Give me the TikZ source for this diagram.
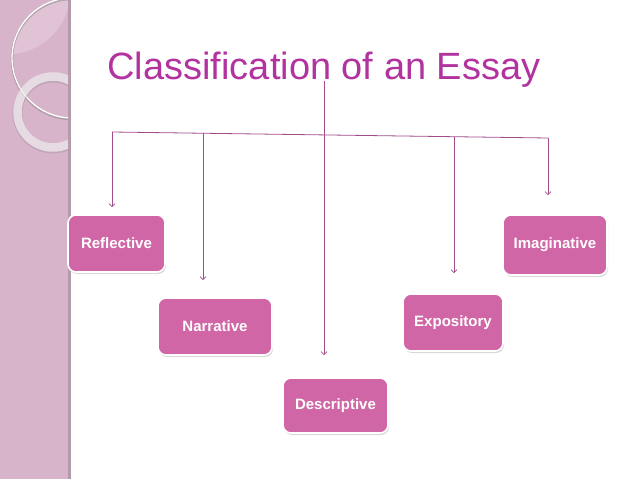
\documentclass[tikz,border=0pt]{standalone}
\usepackage{fontspec}
\setmainfont{Liberation Sans}
\usetikzlibrary{arrows.meta,shadows}

\definecolor{panelpink}{HTML}{D8B4CB}
\definecolor{paneledge}{HTML}{B49AAC}
\definecolor{titlemag}{HTML}{B2339F}
\definecolor{boxpink}{HTML}{D066A5}
\definecolor{linkmag}{HTML}{A04C8A}

\tikzset{
	essaybox/.style={rounded corners=8pt, fill=boxpink, draw=white, line width=1.6pt,
		text=white, font=\fontsize{15}{18}\selectfont\bfseries, inner sep=0pt,
		drop shadow={shadow xshift=1pt, shadow yshift=-2pt, opacity=.3}},
	branch/.style={draw=linkmag, line width=0.8pt, -{Straight Barb[length=3pt,width=6pt]}},
}

\begin{document}
\begin{tikzpicture}[x=1pt, y=-1pt]
	\useasboundingbox (0,0) rectangle (638,479);
	% side panel
	\fill[panelpink] (0,0) rectangle (69,479);
	\fill[paneledge] (68,0) rectangle (71,479);
	\begin{scope}
		\clip (0,0) rectangle (68,479);
		\begin{scope}
			\clip (72,58) circle (60pt);
			\fill[white, opacity=.22] (8,-8) circle (62pt);
		\end{scope}
		\draw[gray, opacity=.45, line width=2.6pt] (72,59) circle (60pt);
		\draw[white, line width=1.3pt] (72,58) circle (60pt);
		\draw[gray, opacity=.25, line width=10pt] (53,113) circle (35.5pt);
		\draw[white, opacity=.6, line width=8.5pt] (53,112) circle (35.5pt);
	\end{scope}

	\node[text=titlemag, font=\fontsize{38}{41}\selectfont, anchor=base] (title) at (324,79) {Classification of an Essay};

	% the five kinds
	\node[essaybox, minimum width=97pt, minimum height=57pt] (refl) at (116.5,243.5) {Reflective};
	\node[essaybox, minimum width=114pt, minimum height=57pt] (narr) at (215,326.5) {Narrative};
	\node[essaybox, minimum width=105pt, minimum height=55pt] (desc) at (335.5,405.5) {Descriptive};
	\node[essaybox, minimum width=100pt, minimum height=57pt] (expo) at (453,322.5) {Expository};
	\node[essaybox, minimum width=104pt, minimum height=60pt] (imag) at (555,245) {Imaginative};

	% bar and branches
	\coordinate (b1) at (112,132);
	\coordinate (b2) at (203,133.3);
	\coordinate (b4) at (454,136.8);
	\coordinate (b5) at (548,138);
	\draw[linkmag, line width=0.8pt] (b1) -- (b5);
	\draw[branch, shorten <=2pt, shorten >=22pt] (title.base) -- (title.base |- desc.north);
	\draw[branch, shorten >=7pt] (b1) -- (b1 |- refl.north);
	\draw[branch, shorten >=17pt] (b2) -- (b2 |- narr.north);
	\draw[branch, shorten >=20pt] (b4) -- (b4 |- expo.north);
	\draw[branch, shorten >=19pt] (b5) -- (b5 |- imag.north);
\end{tikzpicture}
\end{document}
